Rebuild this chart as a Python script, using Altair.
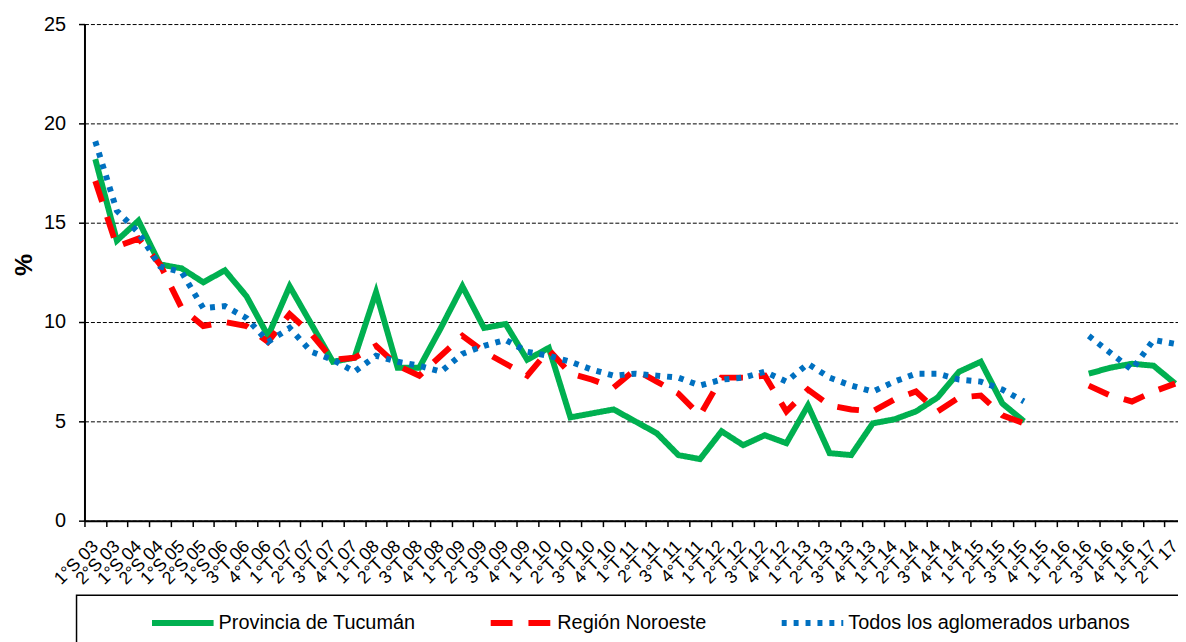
import altair as alt
import pandas as pd

periodos = [
    "1°S 03", "2°S 03", "1°S 04", "2°S 04", "1°S 05", "2°S 05", "1°S 06",
    "3°T 06", "4°T 06",
    "1°T 07", "2°T 07", "3°T 07", "4°T 07",
    "1°T 08", "2°T 08", "3°T 08", "4°T 08",
    "1°T 09", "2°T 09", "3°T 09", "4°T 09",
    "1°T 10", "2°T 10", "3°T 10", "4°T 10",
    "1°T 11", "2°T 11", "3°T 11", "4°T 11",
    "1°T 12", "2°T 12", "3°T 12", "4°T 12",
    "1°T 13", "2°T 13", "3°T 13", "4°T 13",
    "1°T 14", "2°T 14", "3°T 14", "4°T 14",
    "1°T 15", "2°T 15", "3°T 15", "4°T 15",
    "1°T 16", "2°T 16", "3°T 16", "4°T 16",
    "1°T 17", "2°T 17",
]

tucuman = [
    18.2, 14.1, 15.1, 12.9, 12.7, 12.0, 12.6, 11.3, 9.3,
    11.8, 9.9, 8.0, 8.2,
    11.5, 7.7, 7.7, 9.7,
    11.8, 9.7, 9.9, 8.1,
    8.7, 5.2, 5.4, 5.6,
    5.0, 4.4, 3.3, 3.1,
    4.5, 3.8, 4.3, 3.9,
    5.8, 3.4, 3.3, 4.9,
    5.1, 5.5, 6.2, 7.5,
    8.0, 5.9, 5.0, None,
    None, 7.4, 7.7, 7.9,
    7.8, 6.9,
]

noroeste = [
    17.1, 13.8, 14.2, 12.9, 10.7, 9.8, 10.0, 9.8, 9.0,
    10.4, 9.4, 8.1, 8.2,
    8.8, 7.8, 7.3, 8.3,
    9.3, 8.5, 7.9, 7.3,
    8.6, 7.4, 7.1, 6.7,
    7.6, 7.0, 6.4, 5.3,
    7.2, 7.2, 7.3, 5.5,
    6.6, 5.8, 5.6, 5.5,
    6.1, 6.5, 5.5, 6.2,
    6.3, 5.3, 4.9, None,
    None, 6.8, 6.3, 6.0,
    6.5, 6.9,
]

aglomerados = [
    19.1, 15.6, 14.5, 12.8, 12.5, 10.7, 10.8, 10.2, 9.0,
    9.7, 8.5, 8.1, 7.5,
    8.3, 8.0, 7.8, 7.5,
    8.4, 8.8, 9.1, 8.5,
    8.3, 8.0, 7.6, 7.3,
    7.4, 7.3, 7.2, 6.8,
    7.1, 7.2, 7.5, 7.0,
    7.9, 7.2, 6.8, 6.5,
    7.0, 7.4, 7.4, 7.1,
    7.0, 6.6, 6.0, None,
    None, 9.3, 8.45, 7.6,
    9.1, 8.9,
]

series = ["Provincia de Tucumán", "Región Noroeste", "Todos los aglomerados urbanos"]
colores = ["#00B050", "#FF0000", "#0070C0"]
trazos = [[1, 0], [22, 16], [5, 7]]
y_ticks = [0, 5, 10, 15, 20, 25]

rows = []
for nombre, valores in zip(series, [tucuman, noroeste, aglomerados]):
    for p, v in zip(periodos, valores):
        rows.append({"periodo": p, "serie": nombre, "valor": v})
df = pd.DataFrame(rows)

FONT = "Liberation Sans"

legend = alt.Legend(
    orient="none", legendX=65, legendY=569, direction="horizontal",
    title=None, labelFontSize=20, labelFont=FONT, labelColor="black",
    symbolType="stroke", symbolSize=3844, symbolStrokeWidth=6,
    labelOffset=2, columnPadding=63, padding=0, labelLimit=400,
)

lines = alt.Chart(df).mark_line(strokeWidth=6, strokeCap="butt",
                                invalid="break-paths-show-domains").encode(
    x=alt.X("periodo:N", sort=periodos, title=None,
            scale=alt.Scale(paddingInner=0, paddingOuter=0),
            axis=alt.Axis(labelAngle=-45, labelFontSize=18, labelFont=FONT,
                          labelColor="black", labelAlign="right",
                          labelBaseline="middle", labelPadding=17,
                          labelOverlap=False, tickBand="extent", tickSize=6,
                          tickColor="black", tickWidth=1.5,
                          domainColor="black", domainWidth=2, grid=False)),
    y=alt.Y("valor:Q", title="%",
            scale=alt.Scale(domain=[0, 25], nice=False),
            axis=alt.Axis(values=y_ticks, labelFontSize=20, labelFont=FONT,
                          labelColor="black", labelPadding=13, tickSize=6,
                          tickColor="black", tickWidth=1.5,
                          domainColor="black", domainWidth=2,
                          grid=True, gridColor="black", gridDash=[4, 2],
                          gridWidth=1, titleFont=FONT, titleFontSize=25,
                          titleFontWeight="bold", titleColor="black",
                          titleAngle=-90, titleX=-53, titleY=242,
                          titleBaseline="alphabetic")),
    color=alt.Color("serie:N", sort=series,
                    scale=alt.Scale(domain=series, range=colores), legend=legend),
    strokeDash=alt.StrokeDash("serie:N", sort=series,
                              scale=alt.Scale(domain=series, range=trazos),
                              legend=legend),
    detail="serie:N",
)

box = alt.Chart(alt.Data(values=[{"k": 1}])).mark_rect(
    filled=False, color="black", strokeWidth=1.5
).encode(
    x=alt.value(-8), x2=alt.value(1130), y=alt.value(575), y2=alt.value(640)
)

chart = alt.layer(box, lines).properties(
    width=1109, height=500,
    autosize=alt.AutoSizeParams(type="none"),
    padding={"left": 77, "top": 14, "right": -8, "bottom": 120},
).configure_view(stroke="transparent")

chart.save("out.html", embed_options={"renderer": "svg", "actions": False})
